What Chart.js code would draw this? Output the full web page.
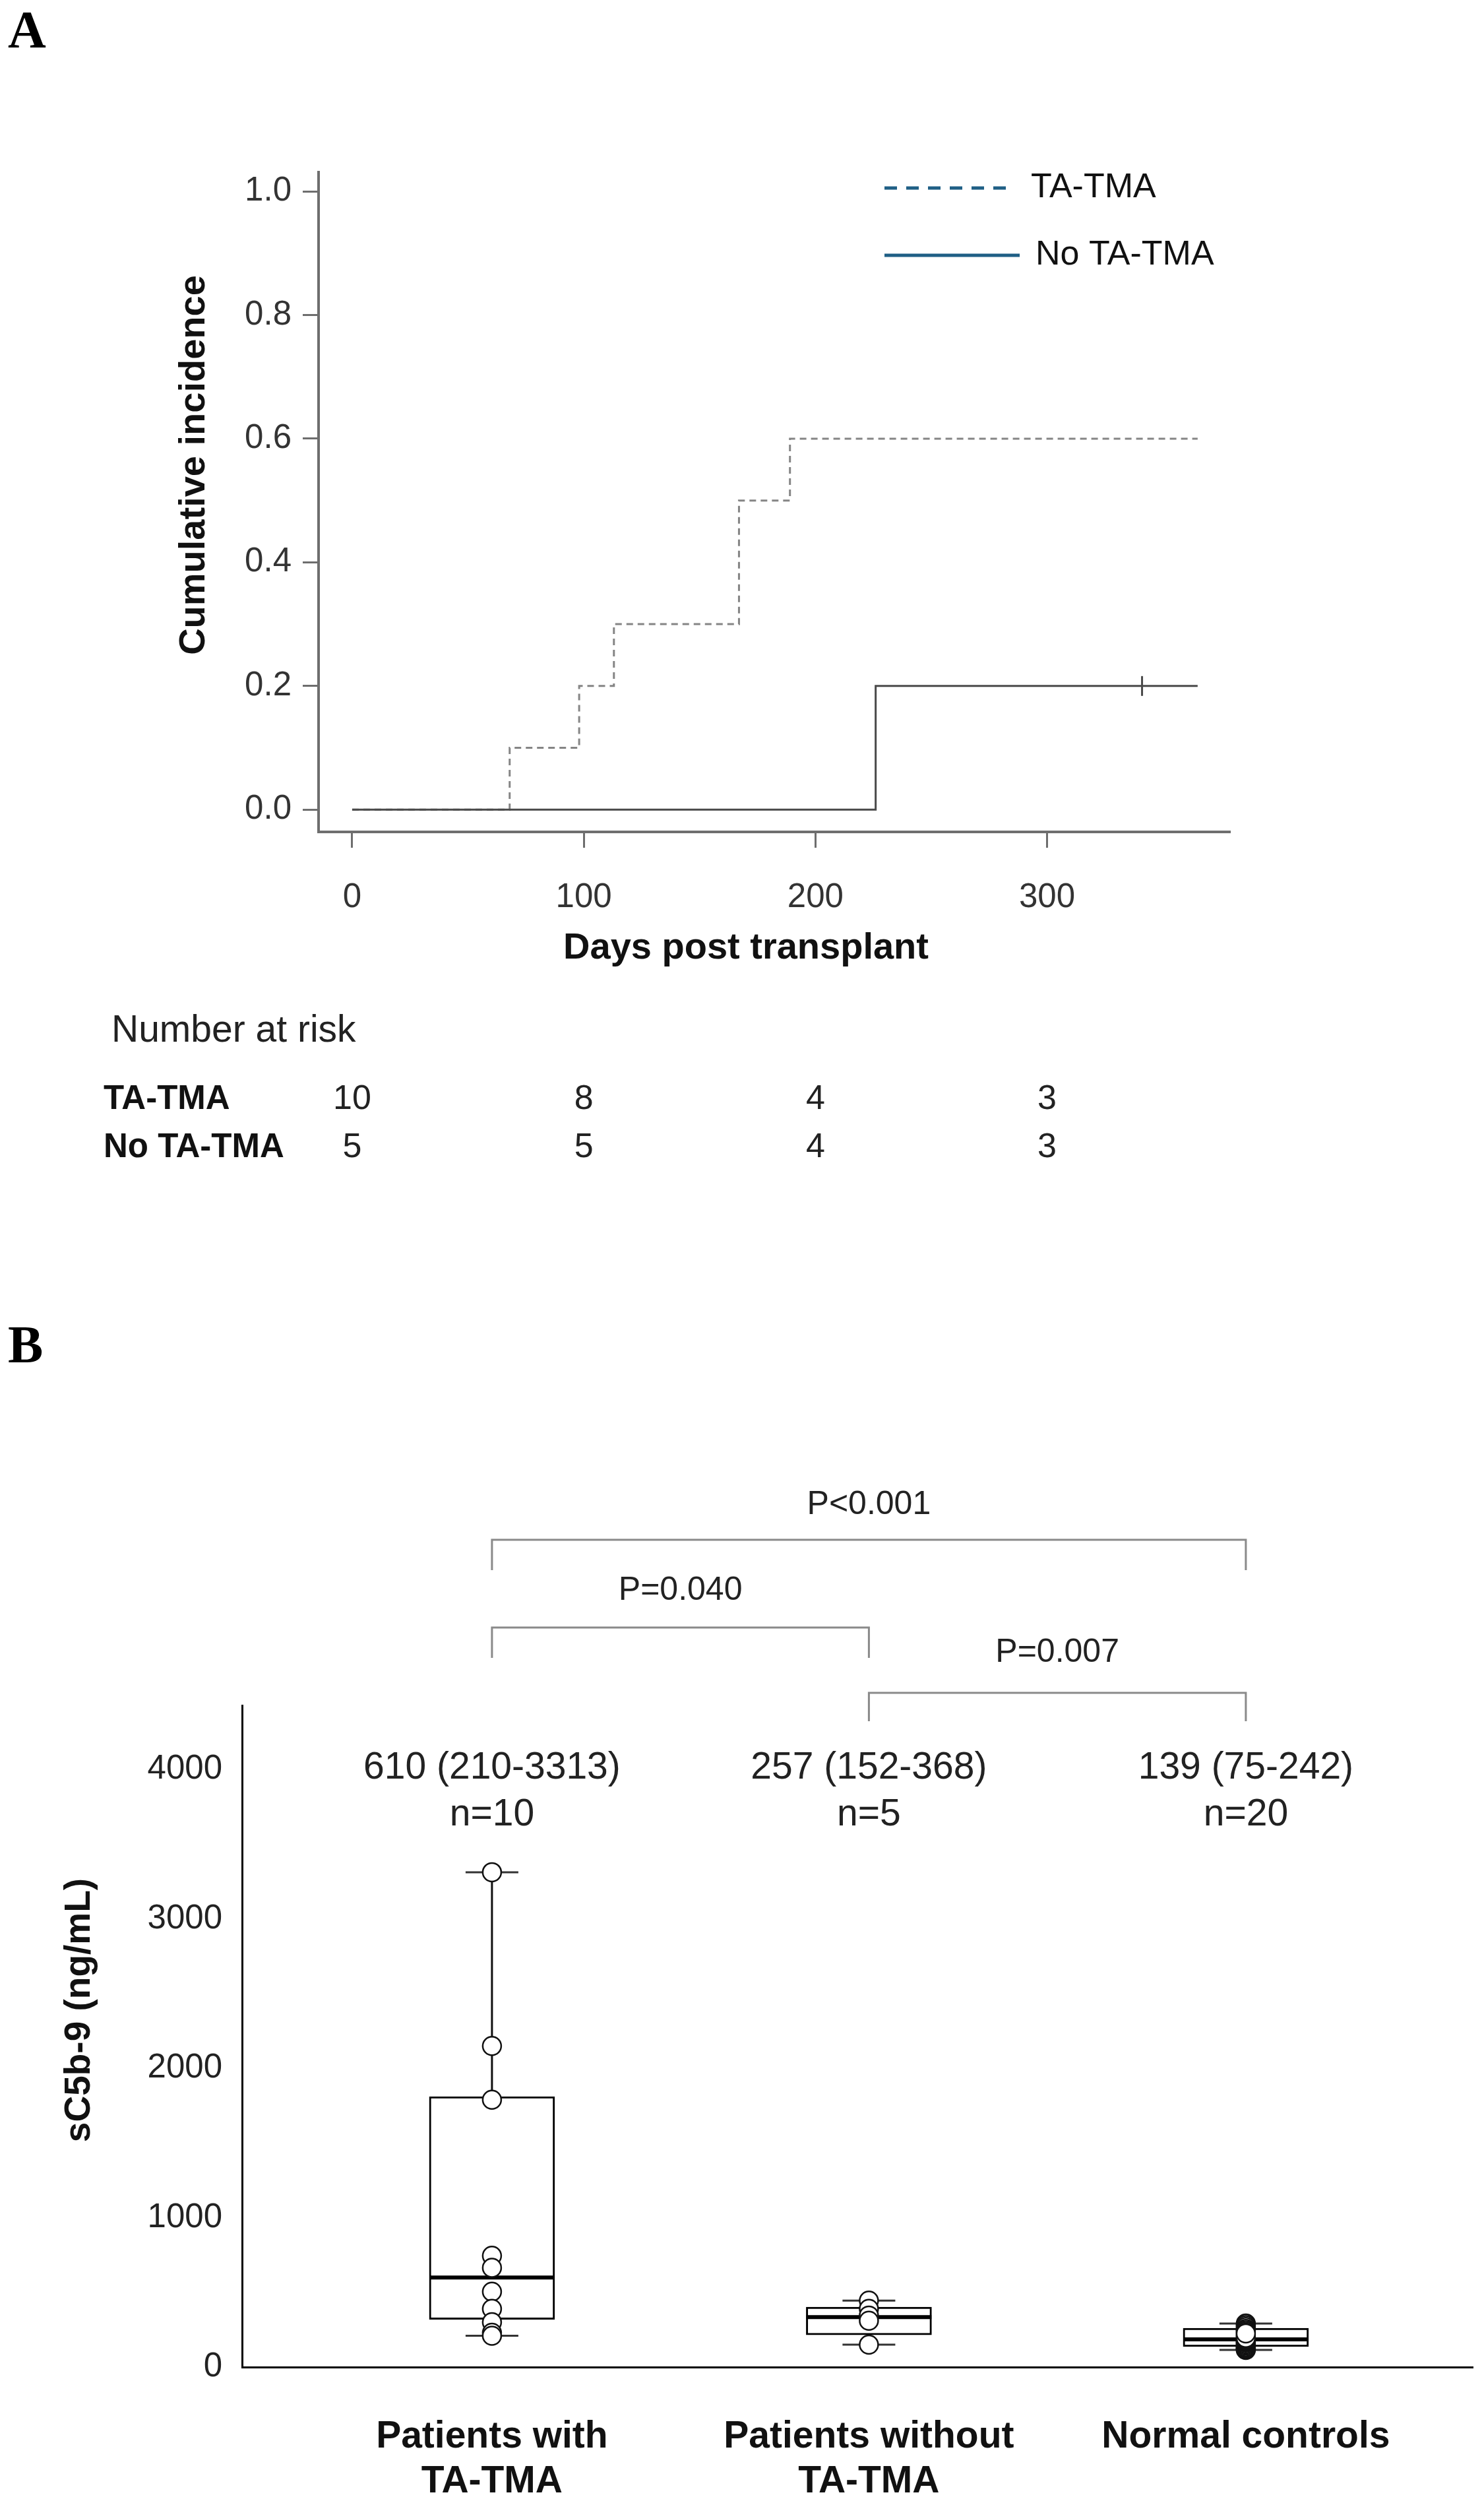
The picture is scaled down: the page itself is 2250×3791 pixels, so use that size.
<!DOCTYPE html>
<html lang="en">
<head>
<meta charset="UTF-8">
<title>TA-TMA cumulative incidence and sC5b-9</title>
<script src="https://cdn.jsdelivr.net/npm/chart.js"></script>
<style>
  * { margin: 0; padding: 0; box-sizing: border-box; }
  body {
    width: 2250px;
    height: 3791px;
    background: #fff;
    position: relative;
    overflow: hidden;
  }
  canvas { position: absolute; left: 0; }
  #chartA { top: 0; }
  #chartB { top: 1900px; }
  .panel {
    position: absolute;
    left: 12px;
    font-family: 'Liberation Serif', 'Times New Roman', serif;
    font-weight: bold;
    font-size: 80px;
    line-height: 1;
    color: #000;
  }
</style>
</head>
<body>
<div class="panel" style="top:5px">A</div>
<div class="panel" style="top:1998px">B</div>
<canvas id="chartA" width="2250" height="1900"></canvas>
<canvas id="chartB" width="2250" height="1891"></canvas>

<script>
  const FONT = "'Liberation Sans', Arial, sans-serif";

  // ---- panel A: cumulative incidence ----
  const taTmaDays = [0, 68, 98, 113, 167, 189, 365];
  const taTmaInc = [0, 0.1, 0.2, 0.3, 0.5, 0.6, 0.6];
  const noTmaDays = [0, 226, 365];
  const noTmaInc = [0, 0.2, 0.2];
  const censorDays = [341];
  const censorInc = [0.2];
  const dayTicks = [0, 100, 200, 300];
  const incTicks = [0, 0.2, 0.4, 0.6, 0.8, 1.0];
  const riskDays = [0, 100, 200, 300];
  const riskGroups = ['TA-TMA', 'No TA-TMA'];
  const riskTaTma = [10, 8, 4, 3];
  const riskNoTma = [5, 5, 4, 3];

  // ---- panel B: sC5b-9 by group ----
  const groupLabels = [['Patients with', 'TA-TMA'], ['Patients without', 'TA-TMA'], ['Normal controls']];
  const groupPos = [1, 2, 3];
  const boxQ1 = [320, 216, 137];
  const boxMedian = [600, 335, 185];
  const boxQ3 = [1810, 402, 260];
  const whiskerLow = [210, 150, 115];
  const whiskerHigh = [3313, 445, 291];
  const tmaValues = [3313, 2150, 1790, 745, 665, 505, 390, 300, 230, 210];
  const noTmaValues = [445, 390, 345, 310, 150];
  const controlValues = [115, 120, 128, 135, 145, 291, 280, 268, 255, 245, 155, 165, 172, 180, 188, 235, 215, 205, 195, 225];
  const summaryText = ['610 (210-3313)', '257 (152-368)', '139 (75-242)'];
  const countText = ['n=10', 'n=5', 'n=20'];
  const sc5Ticks = [0, 1000, 2000, 3000, 4000];
  const compFrom = [1, 1, 2];
  const compTo = [3, 2, 3];
  const compP = ['P<0.001', 'P=0.040', 'P=0.007'];

  const BOX_HALF = 0.166;
  const CAP_HALF = 0.07;

  function rotatedTitle(ctx, text, x, y, size) {
    ctx.save();
    ctx.translate(x, y);
    ctx.rotate(-Math.PI / 2);
    ctx.font = 'bold ' + size + 'px ' + FONT;
    ctx.fillStyle = '#111';
    ctx.textAlign = 'center';
    ctx.textBaseline = 'middle';
    ctx.fillText(text, 0, 0);
    ctx.restore();
  }

  // axis titles, risk table and legend for panel A
  const riskPlugin = {
    id: 'riskTable',
    afterDraw(chart) {
      const { ctx, scales: { x } } = chart;
      rotatedTitle(ctx, 'Cumulative incidence', 295, 705, 56);
      ctx.save();
      ctx.textBaseline = 'middle';
      ctx.fillStyle = '#111';
      ctx.font = 'bold 56px ' + FONT;
      ctx.textAlign = 'center';
      ctx.fillText('Days post transplant', 1131, 1438);

      ctx.fillStyle = '#222';
      ctx.font = '57px ' + FONT;
      ctx.textAlign = 'left';
      ctx.fillText('Number at risk', 169, 1563);

      const rows = [riskTaTma, riskNoTma];
      const rowY = [1667, 1740];
      riskGroups.forEach((g, r) => {
        ctx.font = 'bold 51px ' + FONT;
        ctx.textAlign = 'left';
        ctx.fillStyle = '#111';
        ctx.fillText(g, 157, rowY[r]);
        ctx.font = '52px ' + FONT;
        ctx.textAlign = 'center';
        ctx.fillStyle = '#222';
        rows[r].forEach((n, i) => ctx.fillText(String(n), x.getPixelForValue(riskDays[i]), rowY[r]));
      });

      // legend
      ctx.strokeStyle = '#1f5f85';
      ctx.lineWidth = 5;
      ctx.setLineDash([19, 14]);
      ctx.beginPath(); ctx.moveTo(1341, 285); ctx.lineTo(1534, 285); ctx.stroke();
      ctx.setLineDash([]);
      ctx.beginPath(); ctx.moveTo(1341, 387); ctx.lineTo(1546, 387); ctx.stroke();
      ctx.font = '52px ' + FONT;
      ctx.textAlign = 'left';
      ctx.fillStyle = '#111';
      ctx.fillText('TA-TMA', 1563, 285);
      ctx.fillText('No TA-TMA', 1570, 387);
      ctx.restore();
    }
  };

  new Chart(document.getElementById('chartA'), {
    type: 'line',
    data: {
      datasets: [
        {
          label: 'TA-TMA',
          data: taTmaDays.map((d, i) => ({ x: d, y: taTmaInc[i] })),
          stepped: true,
          borderColor: '#858585',
          borderWidth: 3,
          borderDash: [10, 7],
          pointRadius: 0,
          fill: false,
          order: 2
        },
        {
          label: 'No TA-TMA',
          data: noTmaDays.map((d, i) => ({ x: d, y: noTmaInc[i] })),
          stepped: true,
          borderColor: '#4a4a4a',
          borderWidth: 3,
          pointRadius: 0,
          fill: false,
          order: 1
        },
        {
          type: 'scatter',
          label: 'Censored',
          data: censorDays.map((d, i) => ({ x: d, y: censorInc[i] })),
          pointStyle: 'line',
          rotation: 90,
          pointRadius: 15,
          borderColor: '#4a4a4a',
          pointBorderWidth: 3,
          order: 0
        }
      ]
    },
    options: {
      responsive: false,
      animation: false,
      devicePixelRatio: 1,
      layout: { padding: { top: 261, right: 385, bottom: 429, left: 0 } },
      plugins: { legend: { display: false }, tooltip: { enabled: false } },
      scales: {
        x: {
          type: 'linear',
          min: -14.5,
          max: 379,
          afterBuildTicks: s => { s.ticks = dayTicks.map(v => ({ value: v })); },
          afterFit: s => { s.height = 210; },
          grid: { drawOnChartArea: false, drawTicks: true, tickLength: 24, tickColor: '#6e6e6e', tickWidth: 3 },
          border: { display: true, color: '#6e6e6e', width: 4 },
          ticks: { padding: 45, color: '#333', font: { size: 51, family: FONT }, maxRotation: 0 }
        },
        y: {
          type: 'linear',
          min: -0.036,
          max: 1.031,
          afterBuildTicks: s => { s.ticks = incTicks.map(v => ({ value: v })); },
          afterFit: s => { s.width = 483; },
          grid: { drawOnChartArea: false, drawTicks: true, tickLength: 24, tickColor: '#6e6e6e', tickWidth: 3 },
          border: { display: true, color: '#6e6e6e', width: 4 },
          ticks: { padding: 17, color: '#333', font: { size: 51, family: FONT }, callback: v => v.toFixed(1) }
        }
      }
    },
    plugins: [riskPlugin]
  });

  // box plot pieces for panel B
  const whiskerData = [];
  const capData = [];
  const medianData = [];
  groupPos.forEach((g, i) => {
    whiskerData.push({ x: g, y: boxQ3[i] }, { x: g, y: whiskerHigh[i] }, { x: g, y: null });
    whiskerData.push({ x: g, y: whiskerLow[i] }, { x: g, y: boxQ1[i] }, { x: g, y: null });
    capData.push({ x: g - CAP_HALF, y: whiskerHigh[i] }, { x: g + CAP_HALF, y: whiskerHigh[i] }, { x: g, y: null });
    capData.push({ x: g - CAP_HALF, y: whiskerLow[i] }, { x: g + CAP_HALF, y: whiskerLow[i] }, { x: g, y: null });
    medianData.push({ x: g - BOX_HALF, y: boxMedian[i] }, { x: g + BOX_HALF, y: boxMedian[i] }, { x: g, y: null });
  });
  const pointData = [tmaValues, noTmaValues, controlValues]
    .flatMap((vals, i) => vals.map(v => ({ x: groupPos[i], y: v })));

  const bracketPlugin = {
    id: 'brackets',
    afterDraw(chart) {
      const { ctx, chartArea, scales: { x } } = chart;
      const top = chartArea.top;
      rotatedTitle(ctx, 'sC5b-9 (ng/mL)', 121, 1147, 55);
      ctx.save();
      ctx.textAlign = 'center';
      ctx.textBaseline = 'middle';
      ctx.fillStyle = '#222';
      ctx.font = '57px ' + FONT;
      groupPos.forEach((g, i) => {
        const px = x.getPixelForValue(g);
        ctx.fillText(summaryText[i], px, top + 95);
        ctx.fillText(countText[i], px, top + 166);
      });

      const lineY = [-251, -118, -19];
      const legY = [-205, -72, 24];
      const textY = [-304, -174, -80];
      ctx.strokeStyle = '#8a8a8a';
      ctx.lineWidth = 3;
      ctx.font = '50px ' + FONT;
      compP.forEach((p, i) => {
        const x1 = x.getPixelForValue(compFrom[i]);
        const x2 = x.getPixelForValue(compTo[i]);
        ctx.beginPath();
        ctx.moveTo(x1, top + legY[i]);
        ctx.lineTo(x1, top + lineY[i]);
        ctx.lineTo(x2, top + lineY[i]);
        ctx.lineTo(x2, top + legY[i]);
        ctx.stroke();
        ctx.fillText(p, (x1 + x2) / 2, top + textY[i]);
      });
      ctx.restore();
    }
  };

  new Chart(document.getElementById('chartB'), {
    type: 'bar',
    data: {
      datasets: [
        {
          type: 'bar',
          label: 'IQR',
          data: groupPos.map((g, i) => ({ x: g, y: [boxQ1[i], boxQ3[i]] })),
          backgroundColor: '#fff',
          borderColor: '#000',
          borderWidth: 3,
          borderSkipped: false,
          barThickness: 190,
          grouped: false,
          order: 4
        },
        {
          type: 'line',
          label: 'Whiskers',
          data: whiskerData,
          borderColor: '#111',
          borderWidth: 3,
          pointRadius: 0,
          spanGaps: false,
          order: 3
        },
        {
          type: 'line',
          label: 'Caps',
          data: capData,
          borderColor: '#333',
          borderWidth: 3,
          pointRadius: 0,
          spanGaps: false,
          order: 3
        },
        {
          type: 'line',
          label: 'Median',
          data: medianData,
          borderColor: '#000',
          borderWidth: 6,
          pointRadius: 0,
          spanGaps: false,
          order: 2
        },
        {
          type: 'scatter',
          label: 'Patients',
          data: pointData,
          pointRadius: 14,
          pointBackgroundColor: '#fff',
          pointBorderColor: '#111',
          pointBorderWidth: 2.5,
          order: 0
        }
      ]
    },
    options: {
      responsive: false,
      animation: false,
      devicePixelRatio: 1,
      layout: { padding: { top: 685, right: 15, bottom: 3, left: 0 } },
      plugins: { legend: { display: false }, tooltip: { enabled: false } },
      scales: {
        x: {
          type: 'linear',
          offset: false,
          min: 0.337,
          max: 3.603,
          afterBuildTicks: s => { s.ticks = groupPos.map(v => ({ value: v })); },
          afterFit: s => { s.height = 200; },
          grid: { display: false, offset: false },
          border: { display: true, color: '#000', width: 3 },
          ticks: {
            padding: 64,
            color: '#111',
            autoSkip: false,
            maxRotation: 0,
            font: { size: 57, weight: 'bold', family: FONT },
            callback: (v, i) => groupLabels[i]
          }
        },
        y: {
          type: 'linear',
          min: 0,
          max: 4430,
          afterBuildTicks: s => { s.ticks = sc5Ticks.map(v => ({ value: v })); },
          afterFit: s => { s.width = 367; },
          grid: { display: false },
          border: { display: true, color: '#000', width: 3 },
          ticks: { padding: 22, color: '#222', font: { size: 51, family: FONT }, callback: v => String(v) }
        }
      }
    },
    plugins: [bracketPlugin]
  });
</script>
</body>
</html>
